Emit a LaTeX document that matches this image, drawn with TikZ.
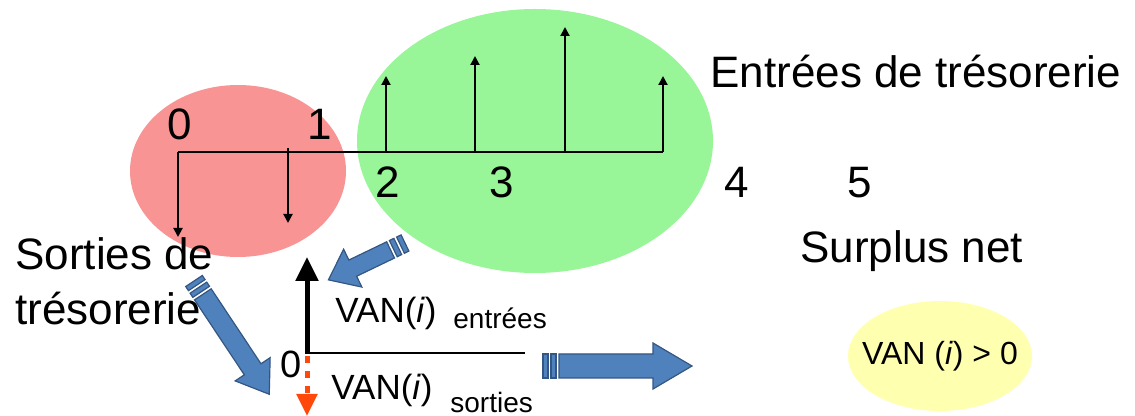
\documentclass[tikz,border=0pt]{standalone}
\usepackage{fontspec}
\setmainfont{Liberation Sans}
\usetikzlibrary{shapes.geometric,arrows.meta}

\definecolor{redzone}{RGB}{249,148,148}
\definecolor{greenzone}{RGB}{152,245,152}
\definecolor{yellowzone}{RGB}{255,255,176}
\definecolor{bluefill}{RGB}{79,129,189}
\definecolor{blueline}{RGB}{52,86,130}
\definecolor{outflow}{RGB}{255,72,10}

% block arrow with a striped tail: tail x, tail y, angle, length,
% shaft half-width, head half-width, head length
\newcommand{\blockarrow}[7]{%
  \begin{scope}[shift={(#1,#2)}, rotate=#3]
    \filldraw[blockpart] (0,-#5) rectangle (5,#5);
    \filldraw[blockpart] (8,-#5) rectangle (13,#5);
    \filldraw[blockpart] (16,-#5) -- ({#4-#7},-#5) -- ({#4-#7},-#6) -- (#4,0)
      -- ({#4-#7},#6) -- ({#4-#7},#5) -- (16,#5) -- cycle;
  \end{scope}}

\begin{document}
\begin{tikzpicture}[x=0.5pt,y=-0.5pt,
  zone/.style={ellipse, inner sep=0pt},
  big/.style={font=\fontsize{22}{26}\selectfont, inner sep=0pt},
  mid/.style={font=\fontsize{17.5}{21}\selectfont, inner sep=0pt},
  small/.style={font=\fontsize{14}{17}\selectfont, inner sep=0pt},
  flow/.style={line width=1pt, -{Triangle[length=4.5pt,width=4.5pt]}},
  blockpart/.style={fill=bluefill, draw=blueline, line width=0.6pt, line join=miter}]
\useasboundingbox (0,0) rectangle (1135,416);

% outflow and inflow zones
\node[zone, fill=redzone, minimum width=108pt, minimum height=86pt] (red) at (238,171) {};
\node[zone, fill=greenzone, minimum width=178pt, minimum height=132pt] (green) at (535,141) {};
\node[zone, fill=yellowzone, minimum width=92pt, minimum height=55pt] (yellow) at (940,356) {};

% time line
\coordinate (t0) at (178,152);
\coordinate (t1) at (288,152);
\coordinate (t2) at (386,152);
\coordinate (t3) at (475,152);
\coordinate (t4) at (565,152);
\coordinate (t5) at (663,152);
\draw[line width=1pt] (t0) -- (t5);

\coordinate (d0) at (178,237);
\coordinate (d1) at (288,223);
\coordinate (u2) at (386,76);
\coordinate (u3) at (475,56);
\coordinate (u4) at (565,27);
\coordinate (u5) at (663,76);
\draw[flow] (t0) -- (d0);
\draw[flow] ([yshift=2pt]t1) -- (d1);
\draw[flow] (t2) -- (u2);
\draw[flow] (t3) -- (u3);
\draw[flow] (t4) -- (u4);
\draw[flow] (t5) -- (u5);

\node[big, anchor=base] (n0) at (180,140) {0};
\node[big, anchor=base] (n1) at (320,140) {1};
\node[big, anchor=base] (n2) at (388,198) {2};
\node[big, anchor=base] (n3) at (502,198) {3};
\node[big, anchor=base] (n4) at (737,198) {4};
\node[big, anchor=base] (n5) at (860,198) {5};

% captions
\node[big, anchor=base west] (entrees) at (710,88) {Entrées de trésorerie};
\node[big, anchor=base west] (sorties1) at (15,270) {Sorties de};
\node[big, anchor=base west] (sorties2) at (15,325) {trésorerie};
\node[big, anchor=base west] (surplus) at (800,263) {Surplus net};
\node[font=\fontsize{16}{19}\selectfont, inner sep=0pt] (van) at (yellow) {VAN (\textit{i}) > 0};

% net present value construction
\coordinate (origin) at (307,353);
\coordinate (uptip) at (307,257);
\coordinate (linend) at (525,353);
\coordinate (dashstart) at (307,356);
\coordinate (downtip) at (307,416);
\draw[line width=2.5pt, -{Triangle[length=12pt,width=11pt]}] (origin) -- (uptip);
\draw[line width=1pt] ([xshift=-1pt]origin) -- (linend);
\draw[outflow, line width=2.5pt, dash pattern=on 3.5pt off 4pt,
  -{Triangle[length=11pt,width=10pt]}] (dashstart) -- (downtip);

\node[font=\fontsize{19}{22}\selectfont, inner sep=0pt, anchor=base] (zero) at (291,378) {0};
\node[mid, anchor=base west] (vanin) at (335,323) {VAN(\textit{i})};
\node[small, anchor=base west] (subin) at (453,329) {entrées};
\node[mid, anchor=base west] (vanout) at (331,400) {VAN(\textit{i})};
\node[small, anchor=base west] (subout) at (450,413) {sorties};

% block arrows
\blockarrow{405}{243}{-154.3}{85}{9}{21}{27}
\blockarrow{194}{281}{-56.4}{136}{10}{21}{30}
\blockarrow{543}{366}{0}{149}{12}{23}{39}
\end{tikzpicture}
\end{document}
